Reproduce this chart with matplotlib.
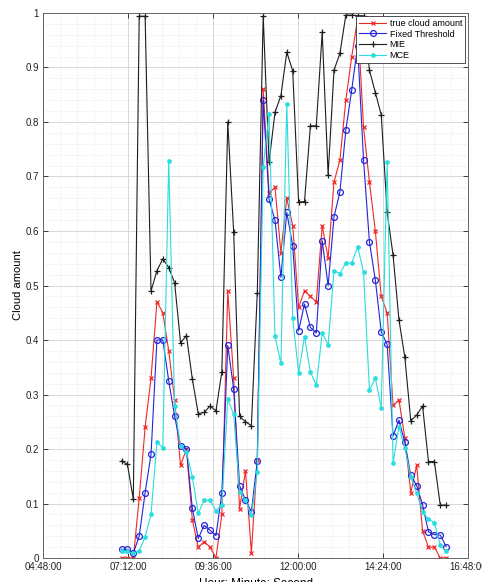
import numpy as np
import pandas as pd
import matplotlib
matplotlib.use('Agg')
import matplotlib.pyplot as plt
from matplotlib.ticker import MultipleLocator, FuncFormatter

# sampling times (every 10 min)
times = pd.date_range('2020-01-01 07:01', periods=56, freq='10min')

true_cloud = [0, 0, 0, 0.11, 0.24, 0.33, 0.47, 0.45, 0.38, 0.29,
              0.17, 0.20, 0.07, 0.02, 0.03, 0.02, 0.0, 0.08, 0.49, 0.33,
              0.09, 0.16, 0.01, 0.18, 0.86, 0.67, 0.68, 0.56, 0.66, 0.61,
              0.46, 0.49, 0.48, 0.47, 0.61, 0.55, 0.69, 0.73, 0.84, 0.92,
              0.99, 0.79, 0.69, 0.60, 0.48, 0.45, 0.28, 0.29, 0.22, 0.12,
              0.17, 0.05, 0.02, 0.02, 0.0, 0.0]
fixed_thr = [0.016, 0.016, 0.009, 0.04, 0.12, 0.19, 0.40, 0.40, 0.325, 0.26,
             0.206, 0.20, 0.091, 0.036, 0.06, 0.051, 0.041, 0.119, 0.39, 0.31,
             0.133, 0.106, 0.085, 0.178, 0.84, 0.658, 0.62, 0.515, 0.634, 0.573,
             0.417, 0.466, 0.423, 0.413, 0.582, 0.50, 0.626, 0.672, 0.785, 0.859,
             0.94, 0.73, 0.58, 0.51, 0.415, 0.392, 0.224, 0.253, 0.212, 0.152,
             0.133, 0.098, 0.048, 0.043, 0.042, 0.021]
mie = [0.178, 0.172, 0.108, 0.994, 0.994, 0.49, 0.527, 0.549, 0.533, 0.505,
       0.395, 0.408, 0.328, 0.265, 0.267, 0.279, 0.27, 0.342, 0.80, 0.598,
       0.26, 0.25, 0.243, 0.486, 0.994, 0.726, 0.818, 0.848, 0.928, 0.894,
       0.653, 0.654, 0.793, 0.793, 0.965, 0.703, 0.895, 0.926, 0.996, 0.996,
       0.995, 0.995, 0.895, 0.854, 0.813, 0.634, 0.556, 0.437, 0.368, 0.252,
       0.262, 0.279, 0.177, 0.177, 0.097, 0.097]
mce = [0.012, 0.012, 0.009, 0.013, 0.039, 0.08, 0.213, 0.202, 0.729, 0.278,
       0.205, 0.195, 0.149, 0.082, 0.106, 0.106, 0.087, 0.097, 0.291, 0.264,
       0.122, 0.106, 0.079, 0.158, 0.718, 0.815, 0.407, 0.357, 0.833, 0.44,
       0.34, 0.406, 0.341, 0.317, 0.413, 0.391, 0.527, 0.522, 0.542, 0.541,
       0.571, 0.525, 0.308, 0.33, 0.276, 0.727, 0.174, 0.241, 0.202, 0.149,
       0.119, 0.085, 0.071, 0.065, 0.023, 0.012]

labels = ['true cloud amount', 'Fixed Threshold', 'MIE', 'MCE']

plt.rcParams['font.family'] = ['Liberation Sans', 'DejaVu Sans']

# minutes since midnight
x = np.array(times.hour * 60 + times.minute, dtype=float)

fig = plt.figure(figsize=(4.82, 5.82), dpi=100)
ax = fig.add_axes([0.0892, 0.0412, 0.8818, 0.9365])

ax.plot(x, true_cloud, color='#f02828', lw=0.8, marker='x', ms=3.5, mew=0.9, label=labels[0])
ax.plot(x, fixed_thr, color='#2424d8', lw=0.8, marker='o', ms=4.2, mfc='none', mew=0.9, label=labels[1])
ax.plot(x, mie, color='#1e1e1e', lw=0.8, marker='+', ms=5, mew=0.9, label=labels[2])
ax.plot(x, mce, color='#28dede', lw=0.8, marker='o', ms=3.4, mew=0, label=labels[3])

ax.set_xlim(288, 1008)
ax.set_ylim(0, 1)
ax.set_xticks([288, 432, 576, 720, 864, 1008])
ax.xaxis.set_major_formatter(FuncFormatter(
    lambda v, p: '%02d:%02d:00' % (int(round(v)) // 60, int(round(v)) % 60)))
ax.set_yticks(np.arange(0, 1.01, 0.1))
ax.yaxis.set_major_formatter(FuncFormatter(lambda v, p: '%g' % round(v, 2)))
ax.xaxis.set_minor_locator(MultipleLocator(28.8))
ax.yaxis.set_minor_locator(MultipleLocator(0.02))

ax.tick_params(which='major', direction='in', top=True, right=True,
               length=3.5, width=0.6, labelsize=7, pad=3, colors='#222222')
ax.tick_params(which='minor', length=0)
for s in ax.spines.values():
    s.set_color('#666666')
    s.set_linewidth(0.7)

ax.grid(which='major', color='#d2d2d2', lw=0.6, ls='-')
ax.grid(which='minor', color='#d8d8d8', lw=0.5, ls=(0, (1, 2)))
ax.set_axisbelow(True)

ax.set_xlabel('Hour: Minute: Second', fontsize=8.5, labelpad=4)
ax.set_ylabel('Cloud amount', fontsize=8, labelpad=2)

leg = ax.legend(loc='upper right', fontsize=6.5, fancybox=False, framealpha=1,
                edgecolor='#333333', handlelength=3, labelspacing=0.2,
                borderpad=0.35, borderaxespad=0.3, handletextpad=0.4)
leg.get_frame().set_linewidth(0.6)

fig.savefig('out.png', dpi=100)
